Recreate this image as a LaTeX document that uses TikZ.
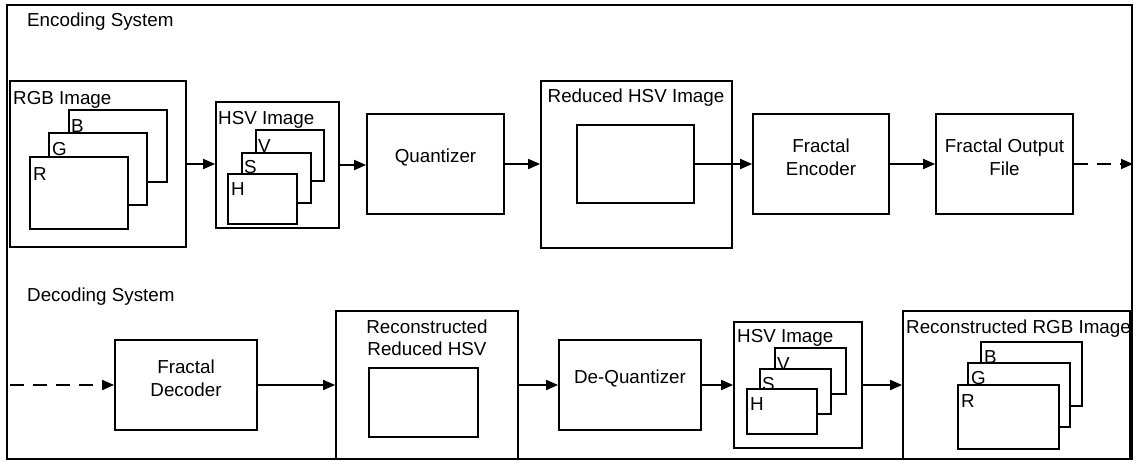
\documentclass[tikz,border=0pt]{standalone}
\usepackage{fontspec}
\setmainfont{Liberation Sans}
\usetikzlibrary{arrows.meta,fit}
\begin{document}
\begin{tikzpicture}[x=1pt,y=-1pt,
  font=\fontsize{18.8}{23.5}\selectfont,
  box/.style={draw, line width=1.8pt, inner sep=0pt, align=center, fill=white},
  lbl/.style={anchor=base west, inner sep=0pt},
  clbl/.style={anchor=base, inner sep=0pt},
  conn/.style={line width=1.8pt, -{Triangle[length=12pt,width=10pt]}},
  dconn/.style={conn, dash pattern=on 14pt off 9pt}]
\useasboundingbox (0,0) rectangle (1137,461);
\node[draw, line width=2.6pt, inner sep=0pt, fit={(7,5)(1132,459)}] (frame) {};

% ---------------- Encoding system ----------------
\node[anchor=west, inner sep=0pt] (enc) at (27,22) {Encoding System};

\node[box, fit={(10,81)(186,247)}] (rgb) {};
\node[lbl] (rgbl) at (13,104) {RGB Image};
\node[box, fit={(69,110)(167,182)}] (rb) {};
\node[lbl] (rbl) at (71,132) {B};
\node[box, fit={(49,133)(147,205)}] (rg) {};
\node[lbl] (rgl) at (52,155) {G};
\node[box, fit={(30,157)(128,229)}] (rr) {};
\node[lbl] (rrl) at (33,180) {R};

\node[box, fit={(216,102)(339,228)}] (hsv) {};
\node[lbl] (hsvl) at (218,124) {HSV Image};
\node[box, fit={(256,130)(324,181)}] (hv) {};
\node[lbl] (hvl) at (258,152) {V};
\node[box, fit={(242,153)(311,203)}] (hs) {};
\node[lbl] (hsl) at (244,173) {S};
\node[box, fit={(228,174)(297,224)}] (hh) {};
\node[lbl] (hhl) at (231,195) {H};

\node[box, fit={(367,114)(504,214)}] (quant) {Quantizer};

\node[box, fit={(541,81)(732,248)}] (red) {};
\node[clbl] (redl) at (636,102) {Reduced HSV Image};
\node[box, fit={(577,125)(694,203)}] (redin) {};

\node[box, fit={(753,114)(889,214)}] (fenc) {Fractal\\Encoder};
\node[box, fit={(936,114)(1073,214)}] (fout) {Fractal Output\\File};
\coordinate (encend) at (1133,164);

\draw[conn] (rgb.east) -- (rgb.east -| hsv.west);
\draw[conn] (hsv.east) -- (hsv.east -| quant.west);
\draw[conn] (quant.east) -- (quant.east -| red.west);
\draw[conn] (redin.east) -- (redin.east -| fenc.west);
\draw[conn] (fenc.east) -- (fenc.east -| fout.west);
\draw[dconn] (fout.east) -- (fout.east -| encend);

% ---------------- Decoding system ----------------
\node[anchor=west, inner sep=0pt] (dec) at (27,297) {Decoding System};
\coordinate (decstart) at (10,385);

\node[box, fit={(115,340)(257,430)}] (fdec) {Fractal\\Decoder};

\node[box, fit={(336,311)(518,459)}] (rrh) {};
\node[clbl] (rrhl1) at (427,333) {Reconstructed};
\node[clbl] (rrhl2) at (427,355) {Reduced HSV};
\node[box, fit={(369,368)(478,437)}] (rrhin) {};

\node[box, fit={(559,340)(701,430)}] (dq) {De-Quantizer};

\node[box, fit={(734,322)(862,448)}] (hsv2) {};
\node[lbl] (hsv2l) at (737,342) {HSV Image};
\node[box, fit={(775,348)(846,394)}] (hv2) {};
\node[lbl] (hv2l) at (777,370) {V};
\node[box, fit={(760,369)(831,414)}] (hs2) {};
\node[lbl] (hs2l) at (762,390) {S};
\node[box, fit={(747,389)(817,434)}] (hh2) {};
\node[lbl] (hh2l) at (750,410) {H};

\node[box, fit={(903,311)(1130,459)}] (rgb2) {};
\node[lbl] (rgb2l) at (906,333) {Reconstructed RGB Image};
\node[box, fit={(981,342)(1082,406)}] (rb2) {};
\node[lbl] (rb2l) at (984,363) {B};
\node[box, fit={(968,363)(1070,427)}] (rg2) {};
\node[lbl] (rg2l) at (971,384) {G};
\node[box, fit={(958,385)(1059,449)}] (rr2) {};
\node[lbl] (rr2l) at (961,407) {R};

\draw[dconn] (decstart) -- (decstart -| fdec.west);
\draw[conn] (fdec.east) -- (fdec.east -| rrh.west);
\draw[conn] (rrh.east) -- (rrh.east -| dq.west);
\draw[conn] (dq.east) -- (dq.east -| hsv2.west);
\draw[conn] (hsv2.east) -- (hsv2.east -| rgb2.west);
\end{tikzpicture}
\end{document}
